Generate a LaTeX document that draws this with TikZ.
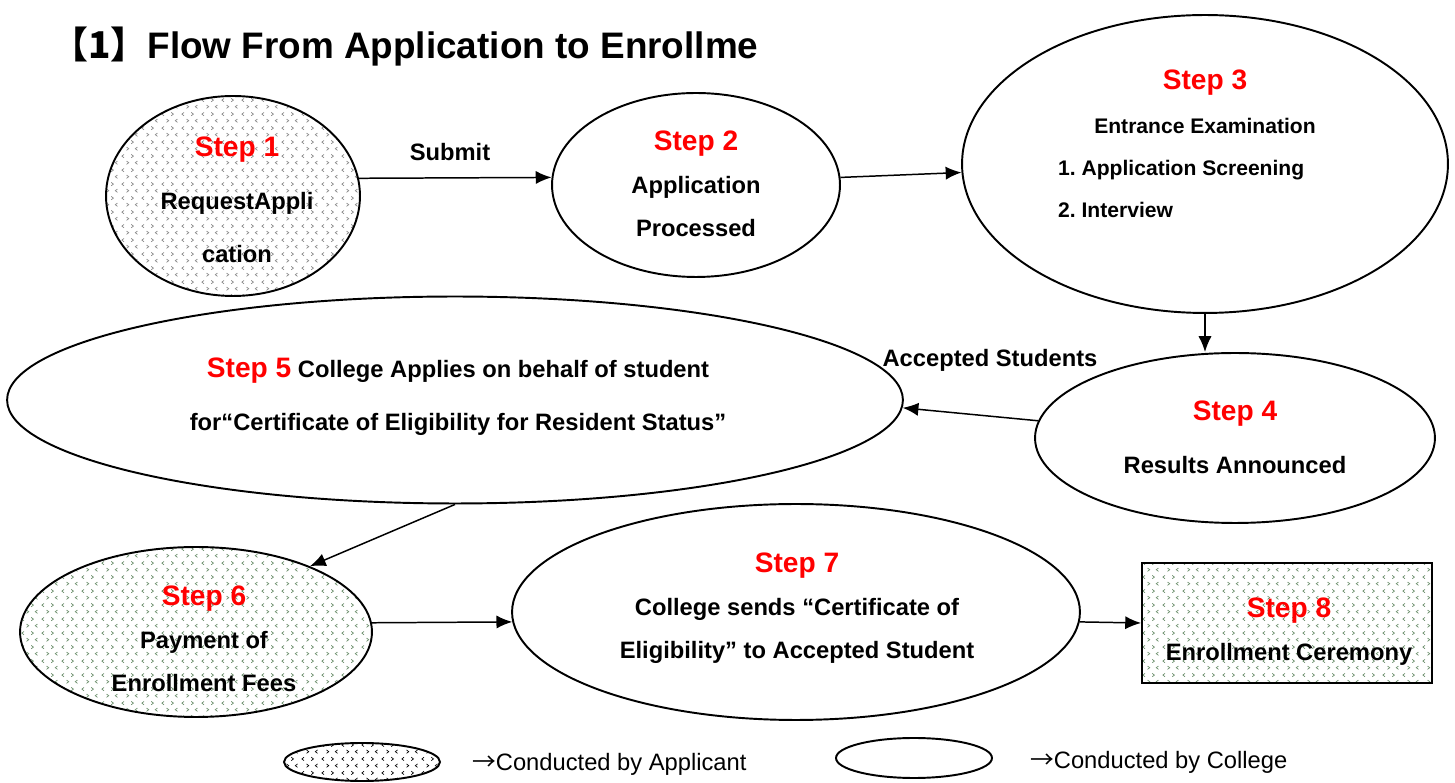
\documentclass[tikz,border=0pt]{standalone}
\usepackage{fontspec}
\setmainfont{Liberation Sans}
\newfontfamily\cjk{Noto Sans CJK SC}
\usetikzlibrary{shapes.geometric,arrows.meta,patterns}
\frenchspacing

% small < > marks used as the fill of the applicant steps
\pgfdeclarepatternformonly{chevrons}{\pgfpointorigin}{\pgfpoint{11.4pt}{8pt}}{\pgfpoint{11.4pt}{8pt}}{
  \pgfsetlinewidth{0.4pt}
  \pgfpathmoveto{\pgfpoint{2.4pt}{7.0pt}}\pgfpathlineto{\pgfpoint{1.1pt}{6pt}}\pgfpathlineto{\pgfpoint{2.4pt}{5.0pt}}
  \pgfpathmoveto{\pgfpoint{6.7pt}{7.0pt}}\pgfpathlineto{\pgfpoint{8.0pt}{6pt}}\pgfpathlineto{\pgfpoint{6.7pt}{5.0pt}}
  \pgfpathmoveto{\pgfpoint{3.9pt}{3.0pt}}\pgfpathlineto{\pgfpoint{5.2pt}{2pt}}\pgfpathlineto{\pgfpoint{3.9pt}{1.0pt}}
  \pgfpathmoveto{\pgfpoint{10.4pt}{3.0pt}}\pgfpathlineto{\pgfpoint{9.1pt}{2pt}}\pgfpathlineto{\pgfpoint{10.4pt}{1.0pt}}
  \pgfusepath{stroke}}

\definecolor{chevgray}{RGB}{135,135,135}
\definecolor{chevgreen}{RGB}{105,140,105}

\newcommand{\stepname}[1]{{\fontsize{16}{24.4}\selectfont\color{red}Step #1}}

\begin{document}
\begin{tikzpicture}[x=0.02cm, y=-0.02cm,
  applicant/.style={ellipse, draw, line width=1.1pt, inner sep=0pt, pattern=chevrons, pattern color=#1},
  college/.style={ellipse, draw, line width=1.1pt, inner sep=0pt},
  txt/.style={align=center, font=\fontsize{13.5}{24.4}\selectfont\bfseries},
  arr/.style={-{Latex[length=9pt,width=7.5pt]}, line width=0.85pt}]
\useasboundingbox (0,0) rectangle (1455,783);

\node[anchor=west, font=\fontsize{21}{25}\selectfont\bfseries] (title) at (45,47) {{\cjk 【1】}Flow From Application to Enrollme};

% steps
\node[applicant=chevgray, minimum width=5.08cm, minimum height=4cm] (s1) at (233,196) {};
\node[college, minimum width=5.76cm, minimum height=3.68cm] (s2) at (696,185) {};
\node[college, minimum width=9.72cm, minimum height=5.96cm] (s3) at (1205,164) {};
\node[college, minimum width=8cm, minimum height=3.4cm] (s4) at (1235,438) {};
\node[college, minimum width=17.92cm, minimum height=4.14cm] (s5) at (455,400) {};
\node[applicant=chevgreen, minimum width=7.04cm, minimum height=3.4cm] (s6) at (196,632) {};
\node[college, minimum width=11.36cm, minimum height=4.32cm] (s7) at (796,612) {};
\node[rectangle, draw, line width=1.1pt, pattern=chevrons, pattern color=chevgreen, minimum width=5.8cm, minimum height=2.4cm] (s8) at (1287,623) {};

% texts
\node[txt, font=\fontsize{13.5}{30}\selectfont\bfseries] (t1) at (237,200) {\stepname{1}\\RequestAppli\\cation};
\node[txt] (t2) at (696,184) {\stepname{2}\\Application\\Processed};
\node[txt, font=\fontsize{12}{25}\selectfont\bfseries] (t3) at (1205,102) {\stepname{3}\\Entrance Examination};
\node[anchor=west, align=left, font=\fontsize{12}{24}\selectfont\bfseries] (t3b) at (1052,189) {1. Application Screening\\2. Interview};
\node[txt, font=\fontsize{13.5}{30}\selectfont\bfseries] (t4) at (1235,437) {\stepname{4}\\Results Announced};
\node[txt, font=\fontsize{13.5}{30}\selectfont\bfseries] (t5) at (458,397) {\stepname{5} College Applies on behalf of student\\for“Certificate of Eligibility for Resident Status”};
\node[txt] (t6) at (204,639) {\stepname{6}\\Payment of\\Enrollment Fees};
\node[txt] (t7) at (797,608) {\stepname{7}\\College sends “Certificate of\\Eligibility” to Accepted Student};
\node[txt] (t8) at (1289,632) {\stepname{8}\\Enrollment Ceremony};

\node[txt] (submit) at (450,152) {Submit};
\node[txt] (accepted) at (990,360) {Accepted Students};

% connectors
\draw[arr] (s1.8) -- (s2.177);
\draw[arr] (s2.3) -- (s3.182);
\draw[arr] (s3.south) -- (s3.south |- s4.north);
\draw[arr] (s4.175) -- (s5.-1);
\draw[arr] (s5.south) -- (s6.30);
\draw[arr] (s6.3) -- (s7.182);
\draw[arr] (s7.-2) -- (s8.west);

% legend
\node[applicant=black, minimum width=3.12cm, minimum height=0.76cm] (key1) at (362,762) {};
\node[anchor=west, font=\fontsize{13.5}{16}\selectfont] (key1t) at (466,764) {{\cjk →}Conducted by Applicant};
\node[college, minimum width=3.12cm, minimum height=0.8cm] (key2) at (914,758) {};
\node[anchor=west, font=\fontsize{13.5}{16}\selectfont] (key2t) at (1024,762) {{\cjk →}Conducted by College};
\end{tikzpicture}
\end{document}
